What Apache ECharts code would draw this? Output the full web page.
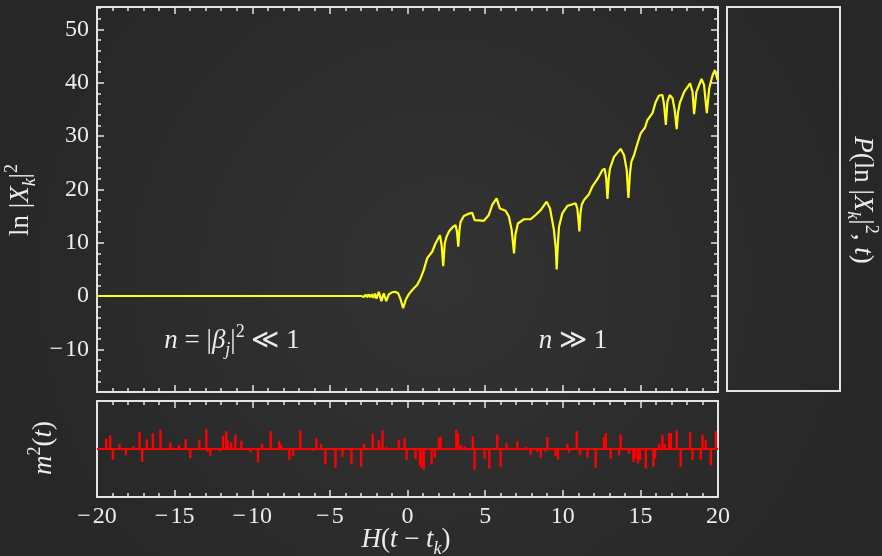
<!DOCTYPE html>
<html>
<head>
<meta charset="utf-8">
<script src="https://cdn.jsdelivr.net/npm/echarts@6/dist/echarts.min.js"></script>
<style>html,body{margin:0;padding:0;background:#2c2c2c;}#c{width:882px;height:556px;}</style>
</head>
<body>
<div id="c"></div>
<script>
// ---- data ----
const lineT = [-20,-3.0,-2.9,-2.8,-2.7,-2.6,-2.5,-2.4,-2.3,-2.2,-2.1,-2.0,-1.85,-1.68,-1.53,-1.37,-1.2,-1.0,-0.8,-0.6,-0.45,-0.28,-0.1,0.1,0.41,0.62,0.84,1.05,1.27,1.59,1.81,2.09,2.2,2.30,2.4,2.5,2.67,2.9,3.09,3.18,3.27,3.35,3.42,3.63,3.9,4.17,4.32,4.6,4.92,5.24,5.46,5.74,5.95,6.32,6.53,6.71,6.86,6.95,7.11,7.5,7.93,8.25,8.58,8.96,9.18,9.43,9.55,9.61,9.68,9.76,9.97,10.30,10.83,10.94,11.02,11.07,11.14,11.22,11.37,11.69,11.9,12.23,12.55,12.7,12.8,12.88,12.96,13.04,13.30,13.73,13.95,14.12,14.23,14.33,14.42,14.59,14.81,15.02,15.30,15.45,15.78,15.99,16.2,16.42,16.53,16.64,16.74,16.89,17.07,17.21,17.34,17.42,17.54,17.82,18.2,18.36,18.46,18.61,18.94,19.1,19.28,19.43,19.65,19.8,19.97];
const lineY = [0,0,0.2,-0.15,0.25,-0.2,0.3,-0.25,0.35,-0.35,0.45,-0.5,0.8,-0.95,0.5,-0.95,0.3,0.7,0.8,0.5,-0.6,-2.3,-0.6,0.4,1.44,2.06,3.3,4.9,7.1,8.3,9.9,11.4,9.5,5.6,9.8,11.0,12.1,12.9,13.3,12.2,9.25,12.5,13.9,15.0,15.4,15.6,14.25,14.2,14.1,15.2,17.1,18.3,16.4,16.0,14.9,12.4,8.0,11.5,13.6,14.4,14.4,15.2,16.1,17.7,16.4,12.4,9.0,5.0,9.5,13.0,15.5,16.9,17.4,16.4,14.0,12.1,15.5,17.1,18.0,19.1,20.5,21.9,23.6,23.9,22.0,18.2,22.0,23.9,26.1,27.6,26.4,23.6,18.4,23.0,25.2,26.4,28.6,30.5,31.6,33.0,34.3,36.4,37.6,37.7,35.8,32.1,36.4,37.7,37.1,34.9,31.3,34.3,36.2,38.3,39.9,38.3,34.1,38.3,40.7,39.6,34.3,38.9,41.4,42.4,40.5];

const barT = [-19.41,-19.15,-18.98,-18.55,-18.14,-17.65,-17.26,-17.09,-16.79,-16.40,-15.91,-15.28,-14.72,-14.29,-13.99,-13.41,-12.96,-12.88,-12.70,-12.06,-11.88,-11.67,-11.58,-11.35,-11.09,-10.70,-10.12,-9.63,-9.37,-8.81,-8.27,-8.14,-7.61,-7.37,-6.90,-6.08,-5.87,-5.57,-5.29,-4.64,-4.19,-3.61,-2.99,-2.81,-2.24,-1.85,-1.61,-1.35,-0.56,-0.19,-0.06,0.52,0.80,0.90,1.05,1.55,1.76,2.02,2.13,2.56,3.14,3.25,3.42,3.68,4.21,4.32,4.96,5.27,5.78,6.00,6.38,7.07,7.61,7.93,8.36,8.58,8.90,9.01,9.54,9.69,10.30,10.40,10.90,11.11,11.59,12.12,12.66,12.77,13.09,13.63,13.73,14.27,14.55,14.66,14.85,14.98,15.35,15.84,15.95,16.20,16.42,16.57,16.85,16.96,17.34,17.60,18.20,18.36,18.89,19.00,19.21,19.54,19.86];
const barV = [0.21,0.28,-0.22,0.10,-0.13,0.06,0.36,-0.27,0.20,0.33,0.40,0.14,0.08,0.21,-0.19,0.19,0.41,-0.06,-0.14,-0.05,0.28,0.37,0.18,0.14,0.30,0.17,-0.07,-0.28,0.10,0.37,0.17,0.09,-0.23,-0.15,0.39,-0.04,0.23,0.10,-0.32,-0.39,-0.17,-0.32,-0.37,0.11,0.32,0.18,0.39,0.04,0.19,0.23,-0.23,-0.21,-0.34,-0.39,-0.43,-0.32,-0.19,0.23,0.26,0.03,0.40,0.32,0.08,0.06,0.26,-0.43,-0.20,-0.41,0.30,-0.37,0.13,0.16,0.04,-0.12,-0.06,-0.18,-0.06,0.25,-0.15,-0.22,0.11,-0.08,0.37,-0.13,-0.18,-0.39,0.25,0.33,-0.20,-0.13,0.30,-0.10,-0.27,-0.20,-0.30,-0.23,-0.41,-0.37,-0.20,0.11,0.30,0.11,0.33,0.33,0.39,-0.37,0.35,-0.23,-0.22,0.30,0.19,-0.34,0.37];
const baseT = [-20, 20];
const baseV = [0, 0];

const xTickLabels = [-20,-15,-10,-5,0,5,10,15,20];
const yTickLabels = [-10,0,10,20,30,40,50];

// ---- styling / layout ----
const frame = '#e4e4e4';
const txt = '#ececec';
const serif = "'Liberation Serif', 'DejaVu Serif', serif";
const xMin = -20, xMax = 20, yMin = -18, yMax = 54.2;

const xMinor = []; for (let v = xMin; v <= xMax; v += 1) xMinor.push(v);
const yMinor = []; for (let v = -16; v <= 54; v += 2) yMinor.push(v);

const fmt = v => (v < 0 ? '\u2212\u200A' + Math.abs(v) : String(v));

function ax(gridIndex, position, min, max, ticks, len, line, labels) {
  return {
    type: 'value', gridIndex, position, min, max,
    axisLine: {show: line, onZero: false, lineStyle: {color: frame, width: 2}},
    axisTick: {show: ticks.length > 0, inside: true, customValues: ticks, length: len, lineStyle: {color: frame, width: 1.5}},
    axisLabel: labels ? {show: true, customValues: labels, formatter: fmt, color: txt, fontFamily: serif, fontSize: 24, margin: 8} : {show: false},
    splitLine: {show: false}
  };
}

const xAxes = [
  ax(0, 'bottom', xMin, xMax, xTickLabels, 7, true, null),
  ax(0, 'bottom', xMin, xMax, xMinor, 4, false, null),
  ax(0, 'top', xMin, xMax, xTickLabels, 7, true, null),
  ax(0, 'top', xMin, xMax, xMinor, 4, false, null),
  ax(1, 'bottom', xMin, xMax, xTickLabels, 7, true, xTickLabels),
  ax(1, 'bottom', xMin, xMax, xMinor, 4, false, null),
  ax(1, 'top', xMin, xMax, xTickLabels, 7, true, null),
  ax(1, 'top', xMin, xMax, xMinor, 4, false, null)
];
const yAxes = [
  ax(0, 'left', yMin, yMax, yTickLabels, 7, true, yTickLabels),
  ax(0, 'left', yMin, yMax, yMinor, 4, false, null),
  ax(0, 'right', yMin, yMax, yTickLabels, 7, true, null),
  ax(0, 'right', yMin, yMax, yMinor, 4, false, null),
  ax(1, 'left', -1, 1, [], 0, true, null),
  ax(1, 'right', -1, 1, [], 0, true, null)
];

const rich = {
  n: {fontFamily: serif, fontSize: 27, lineHeight: 36, fill: txt, color: txt},
  i: {fontFamily: serif, fontStyle: 'italic', fontSize: 27, lineHeight: 36, fill: txt, color: txt},
  sub: {fontFamily: serif, fontStyle: 'italic', fontSize: 18, lineHeight: 21, verticalAlign: 'bottom', fill: txt, color: txt},
  sup: {fontFamily: serif, fontSize: 18, lineHeight: 22, verticalAlign: 'top', fill: txt, color: txt}
};
function label(x, y, text, rotation) {
  return {type: 'text', x, y, rotation: rotation || 0, z: 100,
    style: {text, rich, align: 'center', verticalAlign: 'middle', fill: txt, fontFamily: serif, fontSize: 27}};
}

const chart = echarts.init(document.getElementById('c'), null, {renderer: 'canvas'});
chart.setOption({
  backgroundColor: {type: 'radial', x: 0.5, y: 0.5, r: 0.8,
    colorStops: [{offset: 0, color: '#333333'}, {offset: 1, color: '#272727'}]},
  animation: false,
  grid: [
    {left: 97, top: 7, width: 621, height: 385, outerBoundsMode: 'none', containLabel: false},
    {left: 97, top: 401, width: 621, height: 96, outerBoundsMode: 'none', containLabel: false}
  ],
  xAxis: xAxes,
  yAxis: yAxes,
  series: [
    {type: 'line', xAxisIndex: 0, yAxisIndex: 0, showSymbol: false, clip: true,
      data: lineT.map((t, k) => [t, lineY[k]]),
      lineStyle: {color: '#ffff14', width: 2.2}, itemStyle: {color: '#ffff14'}, z: 5},
    {type: 'line', xAxisIndex: 4, yAxisIndex: 4, showSymbol: false,
      data: baseT.map((t, k) => [t, baseV[k]]),
      lineStyle: {color: '#ff0000', width: 2.2}, z: 4},
    {type: 'bar', xAxisIndex: 4, yAxisIndex: 4, barWidth: 2.4,
      data: barT.map((t, k) => [t, barV[k]]),
      itemStyle: {color: '#ff0000'}, z: 5}
  ],
  graphic: [
    {type: 'rect', shape: {x: 727, y: 7, width: 113, height: 384},
      style: {fill: 'none', stroke: frame, lineWidth: 2}, z: 50},
    label(21, 200, '{n|ln }{n||}{i|X}{sub|k}{n||}{sup|2}', Math.PI / 2),
    label(44, 448, '{i|m}{sup|2}{n|(}{i|t}{n|)}', Math.PI / 2),
    label(862, 200, '{i|P}{n|(ln }{n||}{i|X}{sub|k}{n||}{sup|2}{n|, }{i|t}{n|)}', -Math.PI / 2),
    label(406, 540, '{i|H}{n|(}{i|t}{n| \u2212 }{i|t}{sub|k}{n|)}', 0),
    label(232, 341, '{i|n}{n| = |}{i|\u03B2}{sub|j}{n||}{sup|2}{n| \u226A 1}', 0),
    label(573, 341, '{i|n}{n| \u226B 1}', 0)
  ]
});
</script>
</body>
</html>
